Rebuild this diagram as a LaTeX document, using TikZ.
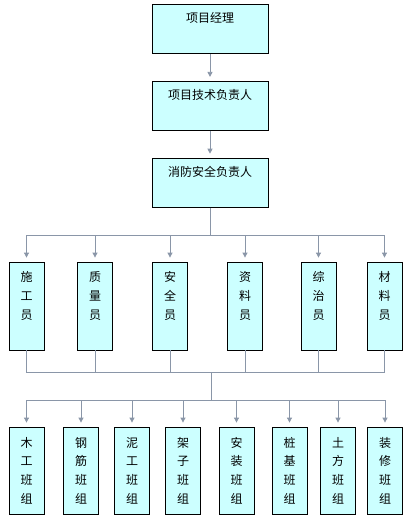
\documentclass[tikz,border=0pt]{standalone}
\usepackage{fontspec}
\newfontfamily\cjk{Noto Sans CJK SC}
\usepackage{xcolor}
\usepackage{tikz}
\usetikzlibrary{arrows.meta, positioning}
\definecolor{boxcyan}{RGB}{204,255,255}
\definecolor{linkgray}{RGB}{138,150,168}

\begin{document}
\begin{tikzpicture}[
    x=1pt, y=-1pt,
    node distance=27pt,
    box/.style={rectangle, draw=black, line width=0.8pt, fill=boxcyan, inner sep=0pt, align=center, font=\cjk\fontsize{12}{19}\selectfont},
    lead/.style={box, minimum width=116pt, minimum height=49pt, text height=10pt, text depth=23pt},
    staff/.style={box, minimum width=35pt, minimum height=88pt, execute at end node={\rule[-21pt]{0pt}{21pt}}},
    crew/.style={box, minimum width=35pt, minimum height=87pt, font=\cjk\fontsize{12}{18.7}\selectfont},
    link/.style={draw=linkgray, line width=0.8pt},
    arrow/.style={link, -{Triangle[width=5pt,length=5pt]}, shorten >=4pt}
]
    \useasboundingbox (0,0) rectangle (411,525);

    \node[lead] (pm) at (210,29) {项目经理};
    \node[lead, below=of pm] (techlead) {项目技术负责人};
    \node[lead, below=of techlead] (firelead) {消防安全负责人};

    \node[staff] (builder) at (26.5,306) {施\\工\\员};
    \node[staff] (quality) at (95,306) {质\\量\\员};
    \node[staff] (safety) at (170,306) {安\\全\\员};
    \node[staff] (records) at (245,306) {资\\料\\员};
    \node[staff] (security) at (318.5,306) {综\\治\\员};
    \node[staff] (material) at (384.5,306) {材\\料\\员};

    \node[crew] (carpentry) at (26.5,470.5) {木\\工\\班\\组};
    \node[crew] (rebar) at (81,470.5) {钢\\筋\\班\\组};
    \node[crew] (masonry) at (132,470.5) {泥\\工\\班\\组};
    \node[crew] (scaffold) at (183,470.5) {架\\子\\班\\组};
    \node[crew] (install) at (236.5,470.5) {安\\装\\班\\组};
    \node[crew] (piling) at (289.5,470.5) {桩\\基\\班\\组};
    \node[crew] (earthwork) at (338,470.5) {土\\方\\班\\组};
    \node[crew] (finishing) at (385,470.5) {装\\修\\班\\组};

    \coordinate (staffbus) at (210,235);
    \coordinate (joinbus) at (211,372);
    \coordinate (crewbus) at (211,400);

    \draw[arrow] (pm) -- (techlead);
    \draw[arrow] (techlead) -- (firelead);
    \draw[link] (firelead) -- (staffbus);

    \draw[arrow] (staffbus) -| (builder);
    \draw[arrow] (staffbus) -| (quality);
    \draw[arrow] (staffbus) -| (safety);
    \draw[arrow] (staffbus) -| (records);
    \draw[arrow] (staffbus) -| (security);
    \draw[arrow] (staffbus) -| (material);

    \draw[link] (builder) |- (joinbus);
    \draw[link] (quality) |- (joinbus);
    \draw[link] (safety) |- (joinbus);
    \draw[link] (records) |- (joinbus);
    \draw[link] (security) |- (joinbus);
    \draw[link] (material) |- (joinbus);
    \draw[link] (joinbus) -- (crewbus);

    \draw[arrow] (crewbus) -| (carpentry);
    \draw[arrow] (crewbus) -| (rebar);
    \draw[arrow] (crewbus) -| (masonry);
    \draw[arrow] (crewbus) -| (scaffold);
    \draw[arrow] (crewbus) -| (install);
    \draw[arrow] (crewbus) -| (piling);
    \draw[arrow] (crewbus) -| (earthwork);
    \draw[arrow] (crewbus) -| (finishing);
\end{tikzpicture}
\end{document}
